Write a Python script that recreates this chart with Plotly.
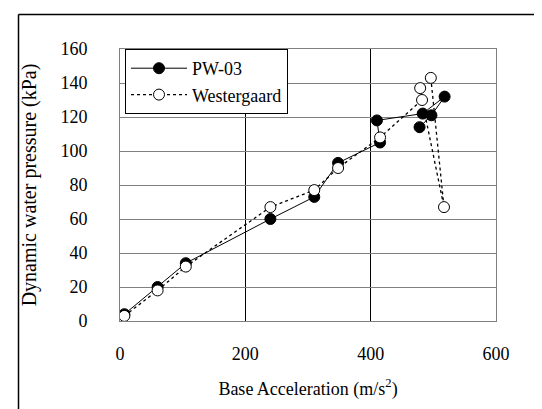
import plotly.graph_objects as go

# PW-03 measured data
pw_x = [7, 60, 105, 240, 310, 348, 415, 410, 483, 518, 497, 478]
pw_y = [4, 20, 34, 60, 73, 93, 105, 118, 122, 132, 121, 114]
# Westergaard estimate
w_x = [7, 60, 105, 240, 310, 348, 415, 482, 517, 496, 479]
w_y = [3, 18, 32, 67, 77, 90, 108, 130, 67, 143, 137]

x_ticks = [0, 200, 400, 600]
y_ticks = [0, 20, 40, 60, 80, 100, 120, 140, 160]

FONT = '"Liberation Serif", "Times New Roman", "DejaVu Serif", serif'
FS = 18

fig = go.Figure()
fig.add_trace(go.Scatter(
    x=pw_x, y=pw_y, mode="lines+markers", name="PW-03",
    line=dict(color="black", width=1),
    marker=dict(symbol="circle", size=11, color="black", line=dict(color="black", width=1)),
))
fig.add_trace(go.Scatter(
    x=w_x, y=w_y, mode="lines+markers", name="Westergaard",
    line=dict(color="black", width=1.3, dash="dot"),
    marker=dict(symbol="circle", size=11, color="white", line=dict(color="black", width=1)),
))

L, R, T, B = 112, 54, 41, 96
W, H = 542, 409
pw = W - L - R
ph = H - T - B

fig.update_layout(
    width=W, height=H,
    margin=dict(l=L, r=R, t=T, b=B, autoexpand=False),
    paper_bgcolor="white", plot_bgcolor="white",
    font=dict(family=FONT, size=FS, color="black"),
    showlegend=True,
    legend=dict(
        x=(117 - L) / pw, y=(H - B - 41) / ph, xanchor="left", yanchor="top",
        bgcolor="white", bordercolor="black", borderwidth=1,
        font=dict(family=FONT, size=FS, color="black"),
        tracegroupgap=0, itemwidth=56,
    ),
    xaxis=dict(
        range=[0, 600], tickvals=x_ticks, ticktext=[str(v) for v in x_ticks],
        tickfont=dict(family=FONT, size=FS, color="black"),
        showgrid=True, gridcolor="black", gridwidth=1,
        zeroline=False, showline=True, linecolor="#808080", linewidth=1, mirror=True,
        ticks="", ticklabelstandoff=16,
        title=dict(text="Base Acceleration (m/s<sup>2</sup>)", standoff=19,
                   font=dict(family=FONT, size=FS)),
        automargin=False,
    ),
    yaxis=dict(
        range=[0, 160], tickvals=y_ticks, ticktext=[str(v) for v in y_ticks],
        tickfont=dict(family=FONT, size=FS, color="black"),
        showgrid=True, gridcolor="#808080", gridwidth=1,
        zeroline=False, showline=True, linecolor="#808080", linewidth=1, mirror=True,
        ticks="", ticklabelstandoff=28,
        title=dict(text="Dynamic water pressure (kPa)", standoff=18,
                   font=dict(family=FONT, size=20)),
        automargin=False,
    ),
)

# outer frame of the embedded figure (left and top edges visible)
x_left = (10.5 - L) / pw
y_top = (H - B - 6.5) / ph
fig.add_shape(type="line", xref="paper", yref="paper", x0=x_left, x1=x_left,
              y0=y_top, y1=-1.0, line=dict(color="black", width=1.5))
fig.add_shape(type="line", xref="paper", yref="paper", x0=x_left, x1=1.5,
              y0=y_top, y1=y_top, line=dict(color="black", width=1.5))

fig.write_html("out.html")
